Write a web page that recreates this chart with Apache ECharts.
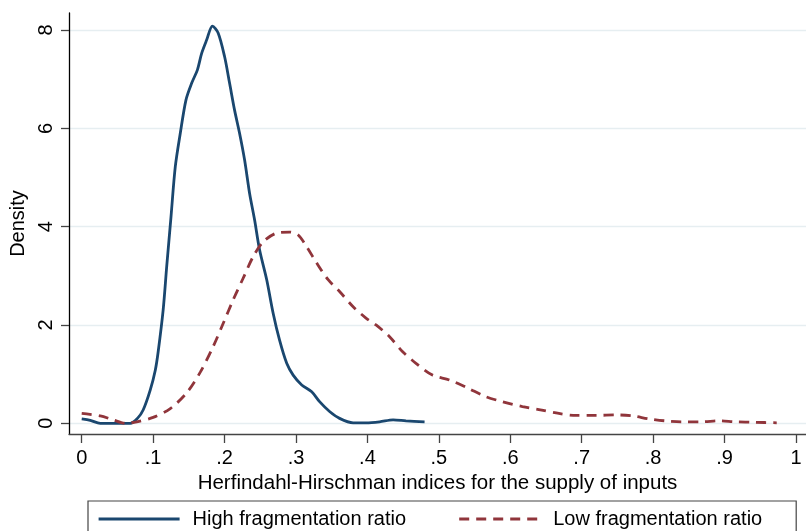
<!DOCTYPE html>
<html>
<head>
<meta charset="utf-8">
<script src="https://cdn.jsdelivr.net/npm/echarts@6/dist/echarts.min.js"></script>
<style>
  html, body { margin: 0; padding: 0; background: #ffffff; }
  #chart { width: 806px; height: 531px; }
</style>
</head>
<body>
<div id="chart"></div>
<script>
// Kernel density estimates of the Herfindahl-Hirschman index, by fragmentation group
const highX = [0.000, 0.012, 0.026, 0.045, 0.068, 0.078, 0.086, 0.096, 0.103, 0.107,
               0.114, 0.119, 0.125, 0.131, 0.138, 0.146, 0.154, 0.162, 0.168, 0.175,
               0.183, 0.191, 0.200, 0.207, 0.214, 0.221, 0.228, 0.235, 0.242, 0.249,
               0.259, 0.268, 0.277, 0.287, 0.296, 0.308, 0.322, 0.333, 0.347, 0.361,
               0.380, 0.398, 0.417, 0.436, 0.454, 0.480];
const highY = [0.09, 0.06, 0.00, 0.00, 0.00, 0.10, 0.27, 0.68, 1.08, 1.45,
               2.30, 3.19, 4.20, 5.22, 5.90, 6.58, 6.92, 7.19, 7.53, 7.80,
               8.08, 7.94, 7.46, 6.92, 6.37, 5.90, 5.36, 4.68, 4.14, 3.53,
               2.92, 2.24, 1.69, 1.22, 0.98, 0.78, 0.64, 0.44, 0.24, 0.10,
               0.01, 0.01, 0.03, 0.07, 0.05, 0.03];

const lowX = [0.000, 0.026, 0.044, 0.061, 0.077, 0.100, 0.124, 0.147, 0.166, 0.184,
              0.198, 0.212, 0.226, 0.240, 0.254, 0.273, 0.291, 0.303, 0.315, 0.329,
              0.345, 0.361, 0.380, 0.398, 0.412, 0.431, 0.449, 0.468, 0.491, 0.515,
              0.540, 0.566, 0.589, 0.617, 0.640, 0.668, 0.692, 0.720, 0.748, 0.771,
              0.794, 0.817, 0.841, 0.868, 0.892, 0.915, 0.943, 0.973];
const lowY = [0.20, 0.15, 0.07, 0.00, 0.03, 0.12, 0.30, 0.62, 1.04, 1.56,
              2.03, 2.51, 2.95, 3.39, 3.69, 3.87, 3.89, 3.83, 3.59, 3.26,
              2.92, 2.68, 2.37, 2.14, 2.00, 1.76, 1.46, 1.22, 0.98, 0.88,
              0.72, 0.54, 0.44, 0.34, 0.28, 0.20, 0.16, 0.16, 0.17, 0.15,
              0.09, 0.05, 0.03, 0.03, 0.05, 0.03, 0.02, 0.01];

const seriesNames = ['High fragmentation ratio', 'Low fragmentation ratio'];

const xTicks = [0, 0.1, 0.2, 0.3, 0.4, 0.5, 0.6, 0.7, 0.8, 0.9, 1];
const xTickLabels = ['0', '.1', '.2', '.3', '.4', '.5', '.6', '.7', '.8', '.9', '1'];
const yTicks = [0, 2, 4, 6, 8];
const yTickLabels = ['0', '2', '4', '6', '8'];

const xTitle = 'Herfindahl-Hirschman indices for the supply of inputs';
const yTitle = 'Density';

const pairs = (xs, ys) => xs.map((x, i) => [x, ys[i]]);
const labelFor = (ticks, labels) => (v) => {
  const i = ticks.findIndex(t => Math.abs(t - v) < 1e-9);
  return i >= 0 ? labels[i] : '';
};

const FONT = '"Liberation Sans", Arial, Helvetica, sans-serif';
const BLUE = '#1a476f';
const RED = '#90353b';

const chart = echarts.init(document.getElementById('chart'), null, { renderer: 'canvas' });

chart.setOption({
  backgroundColor: '#ffffff',
  animation: false,
  textStyle: { fontFamily: FONT },
  grid: { left: 69, right: 0, top: 13, bottom: 97, containLabel: false },
  xAxis: {
    type: 'value',
    min: -0.0178,
    max: 1.014,
    name: xTitle,
    nameLocation: 'middle',
    nameGap: 35,
    nameTextStyle: { fontFamily: FONT, fontSize: 20.5, color: '#000' },
    axisLine: { show: true, onZero: false, lineStyle: { color: '#444444', width: 1.3 } },
    axisTick: { show: true, customValues: xTicks, length: 9, lineStyle: { color: '#444444', width: 1.3 } },
    axisLabel: { customValues: xTicks, formatter: labelFor(xTicks, xTickLabels),
                 fontFamily: FONT, fontSize: 20, color: '#000', margin: 14 },
    splitLine: { show: false }
  },
  yAxis: {
    type: 'value',
    min: -0.218,
    max: 8.346,
    name: yTitle,
    nameLocation: 'middle',
    nameRotate: 90,
    nameGap: 36,
    nameTextStyle: { fontFamily: FONT, fontSize: 20, color: '#000' },
    axisLine: { show: true, onZero: false, lineStyle: { color: '#000000', width: 1.3 } },
    axisTick: { show: true, customValues: yTicks, length: 8, lineStyle: { color: '#444444', width: 1.3 } },
    axisLabel: { customValues: yTicks, formatter: labelFor(yTicks, yTickLabels), rotate: 90,
                 fontFamily: FONT, fontSize: 20, color: '#000', margin: 13 },
    splitLine: { show: true, lineStyle: { color: '#e6eef1', width: 1.3 } }
  },
  legend: {
    left: 88,
    top: 501,
    orient: 'horizontal',
    padding: [7, 15, 10, 9],
    itemWidth: 81,
    itemHeight: 14,
    itemGap: 37,
    borderColor: '#444444',
    borderWidth: 1.2,
    itemStyle: { opacity: 0 },
    lineStyle: { width: 3.2 },
    textStyle: { fontFamily: FONT, fontSize: 20, color: '#000', width: 228, lineHeight: 22, padding: [0, 0, 0, 8] },
    data: seriesNames
  },
  series: [
    {
      name: seriesNames[0],
      type: 'line',
      data: pairs(highX, highY),
      smooth: 0.3,
      symbol: 'none',
      showSymbol: false,
      lineStyle: { color: BLUE, width: 2.8 },
      itemStyle: { color: BLUE }
    },
    {
      name: seriesNames[1],
      type: 'line',
      data: pairs(lowX, lowY),
      smooth: 0.3,
      symbol: 'none',
      showSymbol: false,
      lineStyle: { color: RED, width: 2.8, type: [10, 7] },
      itemStyle: { color: RED }
    }
  ]
});
</script>
</body>
</html>
